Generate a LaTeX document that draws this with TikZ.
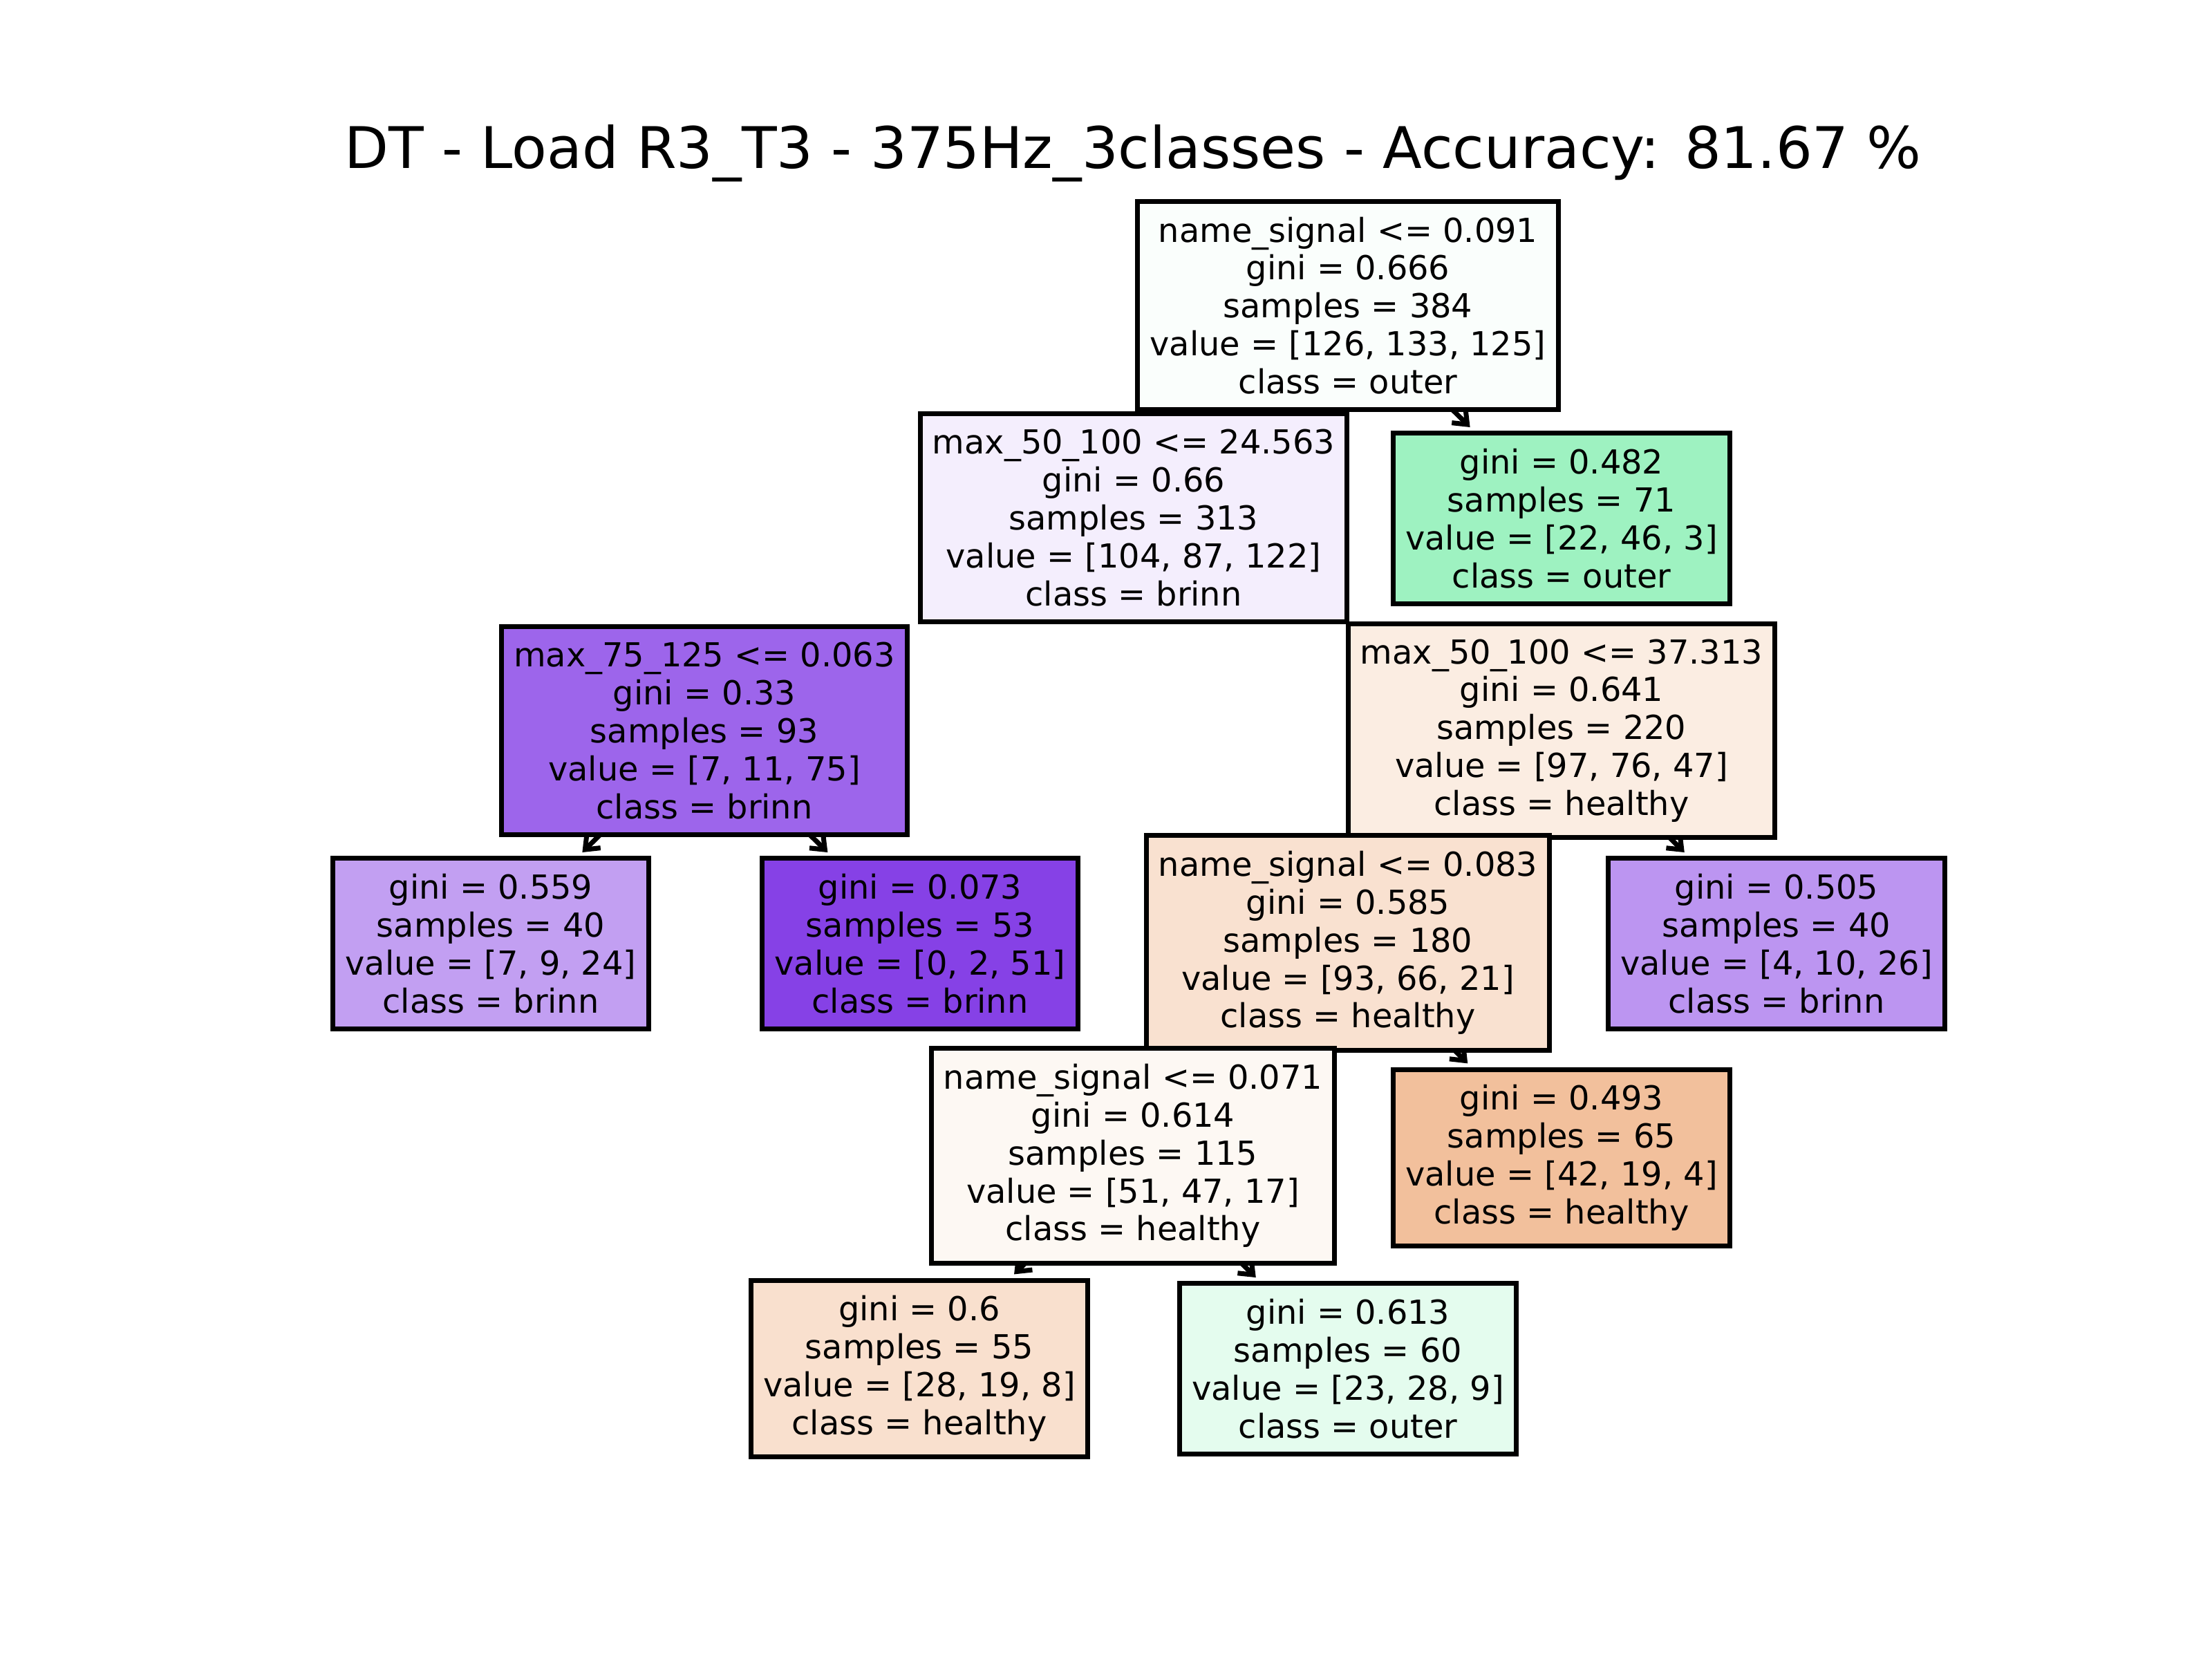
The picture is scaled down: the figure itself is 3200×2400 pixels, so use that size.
\documentclass[tikz,border=0pt]{standalone}
\usepackage{fontspec}
\setsansfont{DejaVu Sans}
\usepackage{tkz-graph}
\usetikzlibrary{arrows.meta}
\usetikzlibrary{backgrounds}

\definecolor{cRoot}{RGB}{250,254,252}
\definecolor{cA}{RGB}{244,238,253}
\definecolor{cB}{RGB}{158,242,193}
\definecolor{cC}{RGB}{157,101,235}
\definecolor{cD}{RGB}{251,237,226}
\definecolor{cE}{RGB}{194,159,242}
\definecolor{cF}{RGB}{134,65,230}
\definecolor{cG}{RGB}{249,225,208}
\definecolor{cH}{RGB}{188,149,241}
\definecolor{cI}{RGB}{253,248,243}
\definecolor{cJ}{RGB}{242,192,156}
\definecolor{cK}{RGB}{249,224,206}
\definecolor{cL}{RGB}{228,252,238}

\begin{document}
\begin{tikzpicture}[x = 0.01cm, y = -0.01cm, font=\sffamily]
	\tikzstyle{VertexStyle} = []
	\tikzstyle{LabelStyle} = [fill = none, draw = none, inner sep = 0pt]
	\tikzstyle{EdgeStyle} = [-{Straight Barb[length = 5pt, width = 8pt]}, line width = 2pt, shorten > = 3.5pt]
	\tikzstyle{boxStyle}=[shape = rectangle, draw, line width = 2pt, align = center, inner xsep = 5pt, inner ysep = 6.4pt, font = \sffamily\fontsize{13.6pt}{15.6pt}\selectfont]
	\useasboundingbox (0,0) rectangle (3200,2400);
	\node (title) at (1639, 222) {\fontsize{23.6pt}{28pt}\selectfont DT - Load R3\_T3 - 375Hz\_3classes - Accuracy: 81.67 \%};
	\Vertex[style = {boxStyle, fill = cRoot}, x = 1950, y = 442, L = {name\_signal <= 0.091\\gini = 0.666\\samples = 384\\value = [126, 133, 125]\\class = outer}]{n0}
	\Vertex[style = {boxStyle, fill = cA}, x = 1640, y = 749, L = {max\_50\_100 <= 24.563\\gini = 0.66\\samples = 313\\value = [104, 87, 122]\\class = brinn}]{n1}
	\Vertex[style = {boxStyle, fill = cB}, x = 2259, y = 750, L = {gini = 0.482\\samples = 71\\value = [22, 46, 3]\\class = outer}]{n2}
	\Vertex[style = {boxStyle, fill = cC}, x = 1019, y = 1057, L = {max\_75\_125 <= 0.063\\gini = 0.33\\samples = 93\\value = [7, 11, 75]\\class = brinn}]{n3}
	\Vertex[style = {boxStyle, fill = cD}, x = 2259, y = 1057, L = {max\_50\_100 <= 37.313\\gini = 0.641\\samples = 220\\value = [97, 76, 47]\\class = healthy}]{n4}
	\Vertex[style = {boxStyle, fill = cE}, x = 710, y = 1365, L = {gini = 0.559\\samples = 40\\value = [7, 9, 24]\\class = brinn}]{n5}
	\Vertex[style = {boxStyle, fill = cF}, x = 1331, y = 1365, L = {gini = 0.073\\samples = 53\\value = [0, 2, 51]\\class = brinn}]{n6}
	\Vertex[style = {boxStyle, fill = cG}, x = 1950, y = 1364, L = {name\_signal <= 0.083\\gini = 0.585\\samples = 180\\value = [93, 66, 21]\\class = healthy}]{n7}
	\Vertex[style = {boxStyle, fill = cH}, x = 2570, y = 1365, L = {gini = 0.505\\samples = 40\\value = [4, 10, 26]\\class = brinn}]{n8}
	\Vertex[style = {boxStyle, fill = cI}, x = 1639, y = 1672, L = {name\_signal <= 0.071\\gini = 0.614\\samples = 115\\value = [51, 47, 17]\\class = healthy}]{n9}
	\Vertex[style = {boxStyle, fill = cJ}, x = 2259, y = 1675, L = {gini = 0.493\\samples = 65\\value = [42, 19, 4]\\class = healthy}]{n10}
	\Vertex[style = {boxStyle, fill = cK}, x = 1330, y = 1980, L = {gini = 0.6\\samples = 55\\value = [28, 19, 8]\\class = healthy}]{n11}
	\Vertex[style = {boxStyle, fill = cL}, x = 1950, y = 1980, L = {gini = 0.613\\samples = 60\\value = [23, 28, 9]\\class = outer}]{n12}
	% only the arrows that show between the boxes
	\begin{pgfonlayer}{background}
	\Edge(n0)(n2)
	\Edge(n3)(n5)
	\Edge(n3)(n6)
	\Edge(n4)(n8)
	\Edge(n7)(n10)
	\Edge(n9)(n11)
	\Edge(n9)(n12)
	\end{pgfonlayer}
\end{tikzpicture}
\end{document}
